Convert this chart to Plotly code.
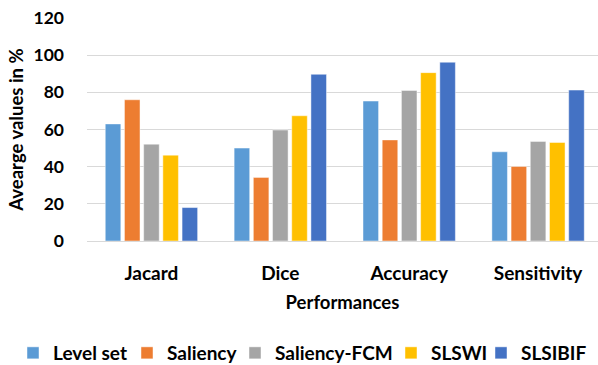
import plotly.graph_objects as go

categories = ["Jacard", "Dice", "Accuracy", "Sensitivity"]
level_set = [63, 50, 75.3, 48]
saliency = [76, 34.2, 54.4, 40.1]
saliency_fcm = [52.1, 59.7, 81, 53.6]
slswi = [46.2, 67.4, 90.6, 53]
slsibif = [18, 89.7, 96.2, 81.2]

series = [
    ("Level set", level_set, "#5B9BD5"),
    ("Saliency", saliency, "#ED7D31"),
    ("Saliency-FCM", saliency_fcm, "#A5A5A5"),
    ("SLSWI", slswi, "#FFC000"),
    ("SLSIBIF", slsibif, "#4472C4"),
]

# left edge (px) of each legend entry along the bottom row
legend_left_px = [13, 127, 235, 391, 481]

font_family = "Lato, 'Open Sans', sans-serif"
W, H = 598, 365

fig = go.Figure()
legend_layouts = {}
for i, (name, vals, color) in enumerate(series):
    key = "legend" if i == 0 else f"legend{i + 1}"
    fig.add_trace(go.Bar(
        name=name, x=categories, y=vals, legend=key, showlegend=True,
        marker=dict(color=color, line=dict(color="rgba(255,255,255,0.45)", width=1)),
    ))
    legend_layouts[key] = dict(
        orientation="h", xref="container", x=legend_left_px[i] / W, xanchor="left",
        yref="container", y=(H - 353) / H, yanchor="middle",
        font=dict(size=19, family=font_family, weight="bold"),
        itemwidth=30, bgcolor="rgba(0,0,0,0)",
    )

fig.update_layout(
    width=W, height=H, showlegend=True,
    margin=dict(l=87, r=0, t=18, b=124, autoexpand=False),
    paper_bgcolor="white", plot_bgcolor="white",
    barmode="group", bargap=0.255, bargroupgap=0.19,
    font=dict(family=font_family, size=17, color="#000000"),
    xaxis=dict(
        range=[-0.5, 3.465],
        showgrid=False, showline=True, linecolor="#D9D9D9", linewidth=1,
        ticks="", ticklabelstandoff=15,
        tickfont=dict(size=19, family=font_family, weight="bold"),
        title=dict(text="<b>Performances</b>", font=dict(size=18.5), standoff=13),
    ),
    yaxis=dict(
        range=[0, 120], dtick=20,
        showgrid=True, gridcolor="#D9D9D9", gridwidth=1,
        zeroline=False, ticks="", ticklabelstandoff=22,
        tickfont=dict(size=17.5, family=font_family, weight="bold"),
        title=dict(text="<b>Avearge values in %</b>", font=dict(size=18.5), standoff=5),
    ),
    **legend_layouts,
)

fig.write_html("out.html")
